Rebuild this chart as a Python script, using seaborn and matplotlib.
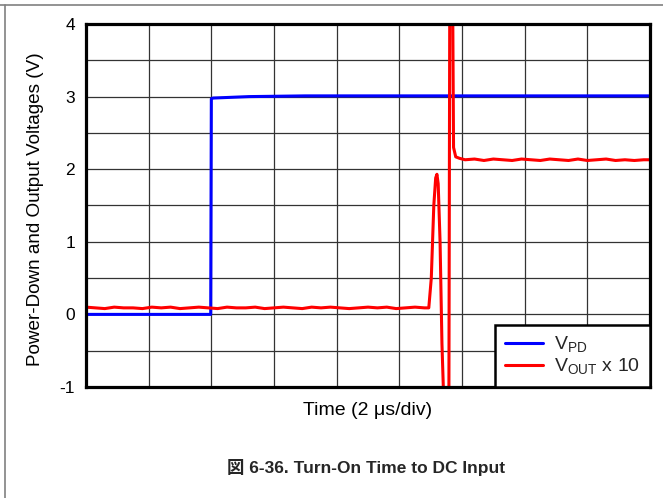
import numpy as np
import pandas as pd
import seaborn as sns
import matplotlib.pyplot as plt
from matplotlib.lines import Line2D

# time in divisions (2 us/div), voltages in V
vpd_t = [0.00, 1.00, 1.99, 2.00, 2.03, 2.60, 3.50, 5.00, 7.00, 9.00]
vpd_v = [0.00, 0.00, 0.00, 2.97, 2.98, 3.00, 3.01, 3.01, 3.01, 3.01]

vout_t = [0.00, 0.15, 0.30, 0.45, 0.60, 0.75, 0.90, 1.05, 1.20, 1.35,
          1.50, 1.65, 1.80, 1.95, 2.10, 2.25, 2.40, 2.55, 2.70, 2.85,
          3.00, 3.15, 3.30, 3.45, 3.60, 3.75, 3.90, 4.05, 4.20, 4.35,
          4.50, 4.65, 4.80, 4.95, 5.10, 5.25, 5.40, 5.47,
          5.51, 5.55, 5.58, 5.60, 5.62, 5.65, 5.68, 5.72, 5.79, 5.805,
          5.85, 5.865, 5.90, 5.96,
          6.05, 6.20, 6.35, 6.50, 6.65, 6.80, 6.95, 7.10, 7.25, 7.40,
          7.55, 7.70, 7.85, 8.00, 8.15, 8.30, 8.45, 8.60, 8.75, 8.90, 9.00]
vout_v = [0.10, 0.09, 0.08, 0.10, 0.09, 0.09, 0.08, 0.10, 0.09, 0.10,
          0.08, 0.09, 0.10, 0.09, 0.08, 0.10, 0.09, 0.09, 0.10, 0.08,
          0.09, 0.10, 0.09, 0.08, 0.10, 0.09, 0.10, 0.09, 0.08, 0.09,
          0.10, 0.09, 0.10, 0.08, 0.09, 0.10, 0.09, 0.09,
          0.50, 1.50, 1.88, 1.93, 1.80, 1.00, -0.40, -1.50, -1.50, 4.50,
          4.50, 2.30, 2.17, 2.15,
          2.13, 2.14, 2.12, 2.14, 2.13, 2.12, 2.14, 2.13, 2.12, 2.14,
          2.13, 2.12, 2.14, 2.12, 2.13, 2.14, 2.12, 2.13, 2.12, 2.13, 2.13]

y_ticks = [-1, -0.5, 0, 0.5, 1, 1.5, 2, 2.5, 3, 3.5, 4]
y_labels = ["-1", "", "0", "", "1", "", "2", "", "3", "", "4"]
x_ticks = [0, 1, 2, 3, 4, 5, 6, 7, 8, 9]

df = pd.concat([
    pd.DataFrame({"t": vpd_t, "v": vpd_v, "s": "VPD"}),
    pd.DataFrame({"t": vout_t, "v": vout_v, "s": "VOUT"}),
])

sns.set_theme(style="white")
plt.rcParams["font.family"] = ["Liberation Sans", "Noto Sans CJK JP", "DejaVu Sans"]
plt.rcParams["mathtext.fontset"] = "custom"
plt.rcParams["mathtext.rm"] = "Liberation Sans"

fig = plt.figure(figsize=(6.63, 4.98), dpi=100)
ax = fig.add_axes([86 / 663, 1 - 387 / 498, 564 / 663, 363 / 498])

sns.lineplot(data=df, x="t", y="v", hue="s", palette={"VPD": "#0000ff", "VOUT": "#ff0000"},
             estimator=None, sort=False, lw=2.2, ax=ax, legend=False)

ax.set_xlim(0, 9)
ax.set_ylim(-1, 4)
ax.set_xticks(x_ticks)
ax.set_xticklabels([])
ax.set_yticks(y_ticks)
ax.set_yticklabels(y_labels, fontsize=12.5, color="black")
ax.tick_params(length=0, pad=8)
ax.grid(True, color="#333333", lw=0.9)
for sp in ax.spines.values():
    sp.set_color("black")
    sp.set_linewidth(2.3)

ax.set_xlabel("Time (2 \u03bcs/div)", fontsize=14, color="black")
ax.xaxis.set_label_coords(0.5, -0.042)
ax.set_ylabel("Power-Down and Output Voltages (V)", fontsize=13.6, color="black")
ax.yaxis.set_label_coords(-0.075, 0.49)

handles = [Line2D([], [], color="#0000ff", lw=2.2), Line2D([], [], color="#ff0000", lw=2.2)]
leg = ax.legend(handles, [r"V$_{\mathregular{PD}}$", r"V$_{\mathregular{OUT}}$ x 10"],
                loc="lower right", bbox_to_anchor=(1, 0), borderaxespad=0,
                fontsize=14, handlelength=2.0, handletextpad=0.55,
                labelspacing=0.1, borderpad=0.5, fancybox=False, framealpha=1)
leg.get_frame().set_edgecolor("black")
leg.get_frame().set_linewidth(1.8)

fig.text(366 / 663, 1 - 467 / 498, "\u56f3 6-36. Turn-On Time to DC Input",
         ha="center", va="center", fontsize=12.5, fontweight="bold")

# page frame lines
fig.add_artist(Line2D([0, 1], [1 - 5 / 498] * 2, color="#808080", lw=1.2, transform=fig.transFigure))
fig.add_artist(Line2D([5 / 663] * 2, [0, 1 - 5 / 498], color="#808080", lw=1.2, transform=fig.transFigure))

fig.savefig("out.png", dpi=100)
